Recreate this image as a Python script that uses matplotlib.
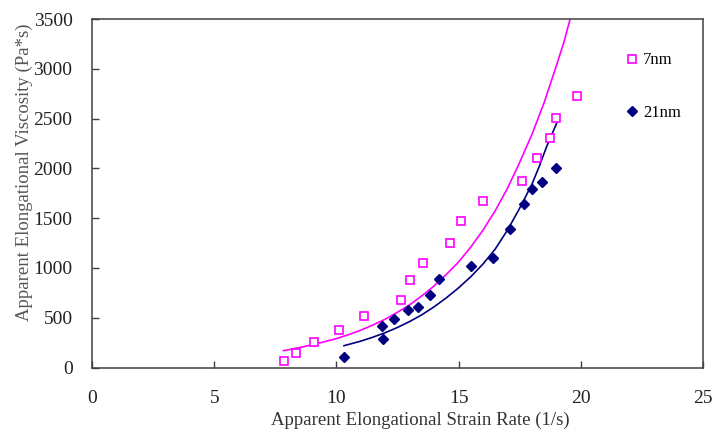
import matplotlib
matplotlib.use('Agg')
import matplotlib.pyplot as plt

rate_7nm = [7.86, 8.33, 9.08, 10.12, 11.12, 12.64, 13.0, 13.53, 14.66, 15.11,
            15.99, 17.58, 18.22, 18.74, 19.0, 19.86]
visc_7nm = [65, 149, 259, 373, 517, 678, 879, 1046, 1253, 1474,
            1675, 1876, 2100, 2301, 2505, 2726]

rate_21nm = [10.32, 11.89, 11.85, 12.37, 12.94, 13.35, 13.83, 14.21, 15.49, 16.42,
             17.1, 17.69, 18.01, 18.4, 19.0]
visc_21nm = [102, 283, 417, 490, 577, 610, 725, 886, 1019, 1096,
             1391, 1645, 1795, 1859, 2003]

# Model curves
curve_rate_7nm = [7.83, 8.5, 9.0, 9.5, 10.0, 10.5, 11.0, 11.5, 12.0, 12.5, 13.0,
                  13.5, 14.0, 14.5, 15.0, 15.5, 16.0, 16.5, 17.0, 17.5, 18.0,
                  18.5, 19.0, 19.3, 19.56]
curve_visc_7nm = [169, 200, 228, 258, 290, 330, 375, 428, 485, 555, 630,
                  720, 820, 935, 1060, 1210, 1380, 1575, 1800, 2060, 2340,
                  2660, 3030, 3260, 3496]

curve_rate_21nm = [10.31, 10.7, 11.0, 11.5, 12.0, 12.5, 13.0, 13.5, 14.0, 14.5,
                   15.0, 15.5, 16.0, 16.5, 17.0, 17.5, 18.0, 18.3, 18.6, 19.01]
curve_visc_21nm = [219, 245, 265, 305, 350, 402, 462, 530, 610, 700,
                   800, 912, 1040, 1190, 1380, 1600, 1840, 2020, 2217, 2452]

x_ticks = [0, 5, 10, 15, 20, 25]
y_ticks = [0, 500, 1000, 1500, 2000, 2500, 3000, 3500]

plt.rcParams['font.family'] = ['Liberation Serif', 'DejaVu Serif']

W, H = 712, 432
fig = plt.figure(figsize=(W / 100, H / 100), dpi=100)
ax = fig.add_axes([92 / W, 1 - 367.5 / H, (703 - 92) / W, (367.5 - 19) / H])

ax.plot(curve_rate_7nm, curve_visc_7nm, color='#FF00FF', lw=1.2)
ax.plot(curve_rate_21nm, curve_visc_21nm, color='#000080', lw=1.2)
ax.plot(rate_7nm, visc_7nm, ls='none', marker='s', ms=5.5, mfc='white',
        mec='#FF00FF', mew=1.2, label='7nm')
ax.plot(rate_21nm, visc_21nm, ls='none', marker='D', ms=5, color='#000080',
        label='21nm')

ax.set_xlim(0, 25)
ax.set_ylim(0, 3500)
ax.set_xticks(x_ticks)
ax.set_yticks(y_ticks)
ax.tick_params(direction='in', length=5, width=1, colors='#404040',
               labelcolor='#222222', labelsize=14)
ax.tick_params(axis='x', pad=16)
ax.tick_params(axis='y', pad=14)
for s in ax.spines.values():
    s.set_color('#404040')
    s.set_linewidth(1.1)

fig.text(420 / W, 1 - 420 / H, 'Apparent Elongational Strain Rate (1/s)',
         ha='center', va='center', fontsize=13.5, color='#333333')
fig.text(24 / W, 1 - 172 / H, 'Apparent Elongational Viscosity (Pa*s)',
         ha='center', va='center', rotation=90, fontsize=13.5, color='#555555')

ax.legend(loc='center left', bbox_to_anchor=(627 / W, 1 - 86.7 / H),
          bbox_transform=fig.transFigure, frameon=False, fontsize=12,
          handlelength=0.6, handletextpad=0.35, labelspacing=2.2,
          borderpad=0, borderaxespad=0)

fig.savefig('out.png', dpi=100)
